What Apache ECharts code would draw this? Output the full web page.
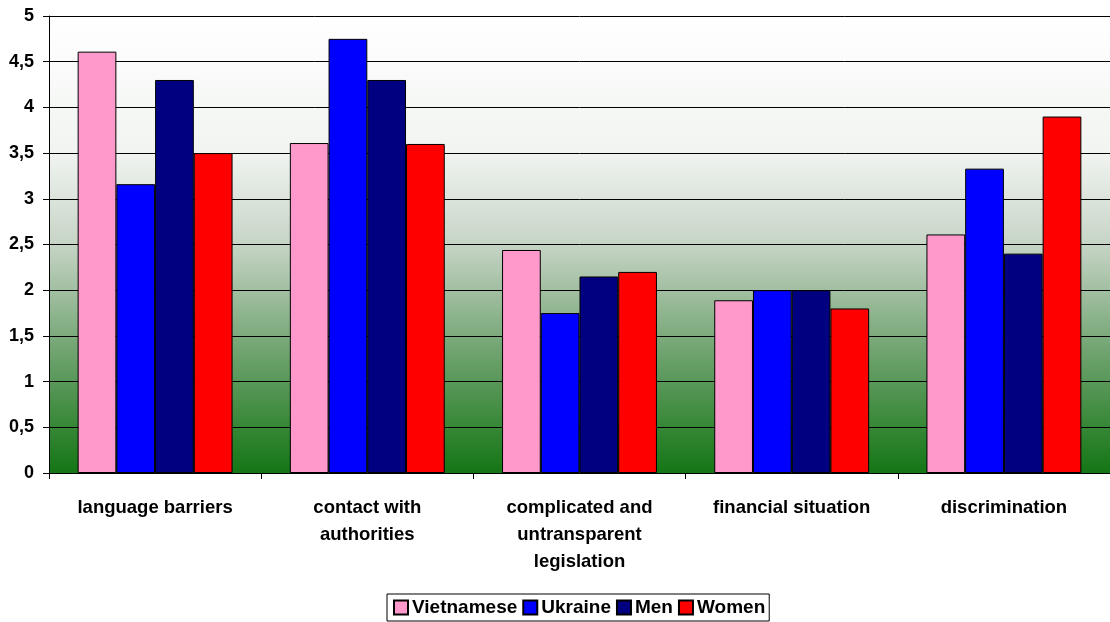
<!DOCTYPE html>
<html>
<head>
<meta charset="utf-8">
<script src="https://cdn.jsdelivr.net/npm/echarts@6/dist/echarts.min.js"></script>
<style>
html,body{margin:0;padding:0;background:#fff;}
#main{width:1110px;height:622px;}
</style>
</head>
<body>
<div id="main"></div>
<script>
// data
var categories = ['language barriers', 'contact with\nauthorities', 'complicated and\nuntransparent\nlegislation', 'financial situation', 'discrimination'];
var vietnamese = [4.61, 3.61, 2.44, 1.89, 2.61];
var ukraine = [3.16, 4.75, 1.75, 2.0, 3.33];
var men = [4.3, 4.3, 2.15, 2.0, 2.4];
var women = [3.5, 3.6, 2.2, 1.8, 3.9];

var font = 'Liberation Sans, Arial, sans-serif';

function bar(name, color, data) {
  return {
    name: name,
    type: 'bar',
    data: data,
    barGap: '0%',
    barCategoryGap: '27%',
    itemStyle: { color: color, borderColor: '#000', borderWidth: 1 }
  };
}

var chart = echarts.init(document.getElementById('main'));
chart.setOption({
  animation: false,
  textStyle: { fontFamily: font },
  grid: {
    left: 49, right: 0, top: 16, bottom: 149,
    show: true,
    borderWidth: 0,
    backgroundColor: {
      type: 'linear', x: 0, y: 0, x2: 0, y2: 1,
      colorStops: [
        { offset: 0, color: '#ffffff' },
        { offset: 0.3, color: '#f1f4f1' },
        { offset: 0.5, color: '#c6d4c6' },
        { offset: 0.75, color: '#6aa06a' },
        { offset: 1, color: '#147614' }
      ]
    }
  },
  legend: {
    bottom: 1,
    left: 387,
    itemWidth: 14,
    itemHeight: 14,
    itemGap: 5,
    borderColor: '#000',
    borderWidth: 1,
    padding: [4, 4, 4, 6],
    icon: 'rect',
    textStyle: { fontFamily: font, fontSize: 19, fontWeight: 'bold', color: '#000', padding: [0, 0, 0, -1] },
    data: ['Vietnamese', 'Ukraine', 'Men', 'Women']
  },
  xAxis: {
    type: 'category',
    data: categories,
    axisLine: { lineStyle: { color: '#000', width: 1 } },
    axisTick: { show: true, length: 6, lineStyle: { color: '#000' } },
    axisLabel: {
      interval: 0,
      margin: 21,
      fontSize: 18.5,
      fontWeight: 'bold',
      color: '#000',
      lineHeight: 27
    }
  },
  yAxis: {
    type: 'value',
    min: 0,
    max: 5,
    interval: 0.5,
    axisLine: { show: true, lineStyle: { color: '#000' } },
    axisTick: { show: true, length: 6, lineStyle: { color: '#000' } },
    splitLine: { lineStyle: { color: '#000', width: 1 } },
    axisLabel: {
      margin: 15,
      fontSize: 18,
      fontWeight: 'bold',
      color: '#000',
      formatter: function (v) { return String(v).replace('.', ','); }
    }
  },
  series: [
    bar('Vietnamese', '#ff99cc', vietnamese),
    bar('Ukraine', '#0000ff', ukraine),
    bar('Men', '#000080', men),
    bar('Women', '#ff0000', women)
  ]
});
</script>
</body>
</html>
